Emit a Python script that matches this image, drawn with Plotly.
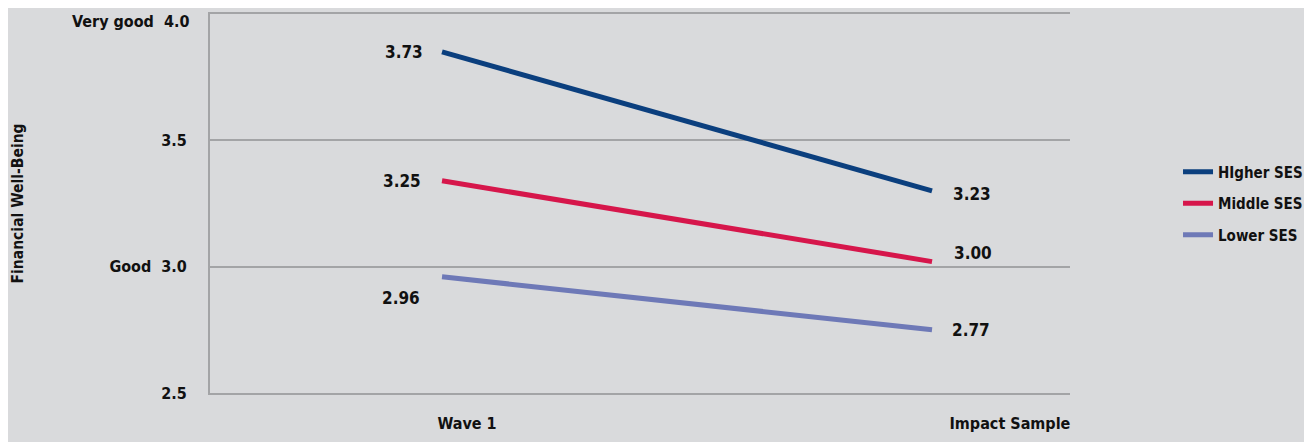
import plotly.graph_objects as go

categories = ["Wave 1", "Impact Sample"]
series_names = ["HIgher SES", "Middle SES", "Lower SES"]
higher_values = [3.85, 3.30]
middle_values = [3.34, 3.02]
lower_values = [2.96, 2.75]
higher_labels = ["3.73", "3.23"]
middle_labels = ["3.25", "3.00"]
lower_labels = ["2.96", "2.77"]
y_tick_values = [2.5, 3.0, 3.5, 4.0]
y_tick_labels = ["2.5", "Good\u00a0\u00a03.0", "3.5", "Very good\u00a0\u00a04.0"]
y_title = "Financial Well-Being"

FONT = "DejaVu Sans Condensed, Roboto, sans-serif"
BG = "#d9dadc"
GRID = "#a3a4a6"
TXT = "#111111"
colors = ["#0b3f7e", "#d6164b", "#6e79b7"]
FS_VAL = 17
FS_TICK = 16

values = [higher_values, middle_values, lower_values]
labels = [higher_labels, middle_labels, lower_labels]
x_pos = [0, 1]

fig = go.Figure()
for i, (name, vals) in enumerate(zip(series_names, values)):
    fig.add_trace(go.Scatter(
        x=x_pos, y=vals, mode="lines", name=name,
        line=dict(color=colors[i], width=5),
        legendgroup=f"g{i}", hoverinfo="skip",
    ))

start_offsets = [(-17, 0), (-19, 0), (-20, -21)]
end_offsets = [(19, -3), (20, 9), (18, 0)]
for i, (vals, labs) in enumerate(zip(values, labels)):
    fig.add_annotation(x=x_pos[0], y=vals[0], text=f"<b>{labs[0]}</b>", showarrow=False,
                       xanchor="right", yanchor="middle",
                       xshift=start_offsets[i][0], yshift=start_offsets[i][1],
                       font=dict(family=FONT, size=FS_VAL, color=TXT))
    fig.add_annotation(x=x_pos[1], y=vals[1], text=f"<b>{labs[1]}</b>", showarrow=False,
                       xanchor="left", yanchor="middle",
                       xshift=end_offsets[i][0], yshift=end_offsets[i][1],
                       font=dict(family=FONT, size=FS_VAL, color=TXT))

# top tick label sits a little below its gridline (as in the reference), drawn as annotation
axis_ticktext = [f"<b>{t}</b>" for t in y_tick_labels[:-1]] + [""]
fig.add_annotation(x=0, xref="paper", y=y_tick_values[-1], yref="y",
                   text=f"<b>{y_tick_labels[-1]}</b>", showarrow=False,
                   xanchor="right", yanchor="middle", xshift=-19, yshift=-7,
                   font=dict(family=FONT, size=FS_TICK, color=TXT))

fig.add_annotation(x=-0.2233, y=0.5, xref="paper", yref="paper", text=f"<b>{y_title}</b>",
                   textangle=-90, showarrow=False, xanchor="center", yanchor="middle",
                   font=dict(family=FONT, size=15.5, color=TXT))

fig.update_layout(
    width=1304, height=434,
    margin=dict(l=202, r=242, t=6, b=49, autoexpand=False),
    paper_bgcolor=BG, plot_bgcolor=BG,
    font=dict(family=FONT, size=FS_TICK, color=TXT),
    showlegend=True,
    legend=dict(x=1.1256, y=0.5, xanchor="left", yanchor="middle",
                bgcolor="rgba(0,0,0,0)", tracegroupgap=9,
                font=dict(family=FONT, size=15, color=TXT, weight="bold")),
    xaxis=dict(
        range=[-0.4735, 1.2816], tickvals=[0.051, 1.159], ticktext=[f"<b>{c}</b>" for c in categories],
        showgrid=False, zeroline=False, showline=True, mirror=True,
        linecolor=GRID, linewidth=2, ticks="", ticklabelstandoff=15,
        tickfont=dict(family=FONT, size=FS_TICK, color=TXT),
        fixedrange=True, automargin=False,
    ),
    yaxis=dict(
        range=[2.5, 4.0], tickvals=y_tick_values, ticktext=axis_ticktext,
        showgrid=True, gridcolor=GRID, gridwidth=2, zeroline=False,
        showline=True, linecolor=GRID, linewidth=2, ticks="", ticklabelstandoff=18,
        tickfont=dict(family=FONT, size=FS_TICK, color=TXT),
        fixedrange=True, automargin=False,
    ),
)

fig.write_html("out.html")
